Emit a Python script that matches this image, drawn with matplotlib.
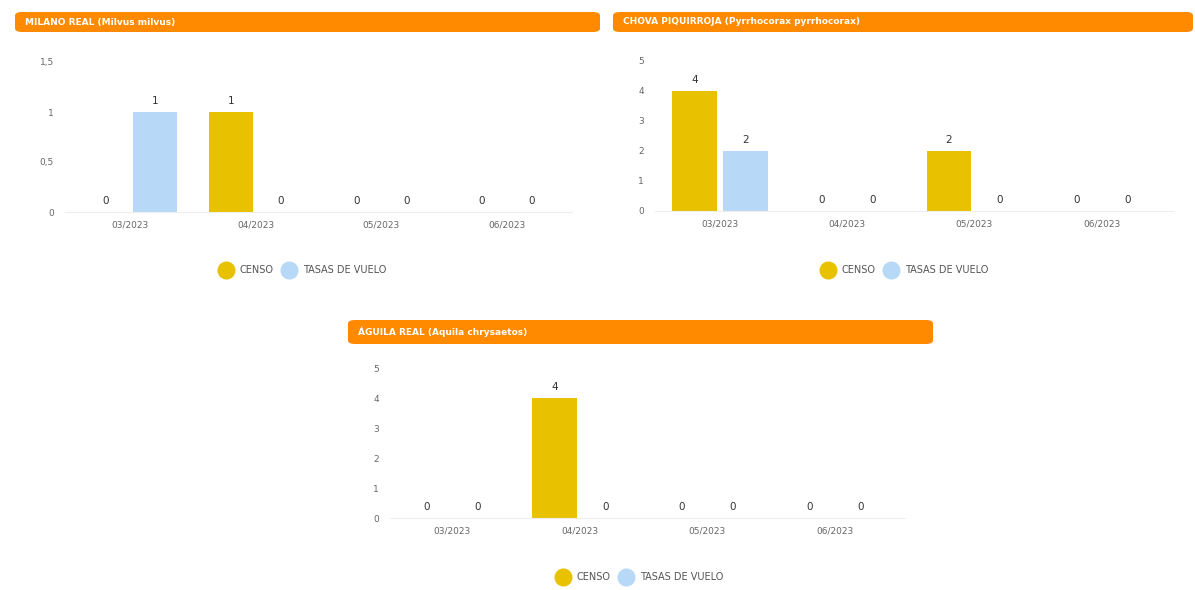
import numpy as np
import matplotlib.pyplot as plt
from matplotlib.patches import FancyBboxPatch
from matplotlib.lines import Line2D

W, H = 1195, 590

months = ['03/2023', '04/2023', '05/2023', '06/2023']
series = ['CENSO', 'TASAS DE VUELO']

milano_censo = [0, 1, 0, 0]
milano_tasas = [1, 0, 0, 0]
chova_censo = [4, 0, 2, 0]
chova_tasas = [2, 0, 0, 0]
aguila_censo = [0, 4, 0, 0]
aguila_tasas = [0, 0, 0, 0]

titles = ['MILANO REAL (Milvus milvus)',
          'CHOVA PIQUIRROJA (Pyrrhocorax pyrrhocorax)',
          'ÁGUILA REAL (Aquila chrysaetos)']

C_CENSO = '#e8c100'
C_TASAS = '#b7d9f7'
ORANGE = '#ff8a00'

plt.rcParams['font.family'] = ['DejaVu Sans']

fig = plt.figure(figsize=(W / 100, H / 100), dpi=100)


def px_axes(x0, x1, y_top, y_bot):
    return fig.add_axes([x0 / W, 1 - y_bot / H, (x1 - x0) / W, (y_bot - y_top) / H])


def header(x0, x1, y0, y1, text):
    box = FancyBboxPatch((x0 / W, 1 - y1 / H), (x1 - x0) / W, (y1 - y0) / H,
                         boxstyle='round,pad=0,rounding_size=0.006',
                         transform=fig.transFigure, facecolor=ORANGE,
                         edgecolor='none', zorder=1)
    fig.patches.append(box)
    fig.text((x0 + 10) / W, 1 - (y0 + y1) / 2 / H, text, color='white',
             fontsize=6.5, fontweight='bold', va='center', ha='left')


def panel(ax, censo, tasas, ymax, yticks, yticklabels, xlim, legend_xy):
    x = np.arange(len(months))
    w = 0.35
    off = 0.2
    b1 = ax.bar(x - off, censo, w, color=C_CENSO, zorder=2)
    b2 = ax.bar(x + off, tasas, w, color=C_TASAS, zorder=2)
    for bars in (b1, b2):
        for r in bars:
            v = r.get_height()
            ax.annotate(f'{v:g}', (r.get_x() + r.get_width() / 2, v),
                        xytext=(0, 4), textcoords='offset points',
                        ha='center', va='bottom', fontsize=7.5, color='#333333')
    ax.set_ylim(0, ymax)
    ax.set_xlim(*xlim)
    ax.set_yticks(yticks)
    ax.set_yticklabels(yticklabels)
    ax.set_xticks(x)
    ax.set_xticklabels(months)
    for s in ['top', 'right', 'left']:
        ax.spines[s].set_visible(False)
    ax.spines['bottom'].set_color('#eeeeee')
    ax.tick_params(length=0, labelsize=6.5, colors='#666666', pad=6)
    ax.tick_params(axis='y', pad=8)
    handles = [Line2D([], [], marker='o', ls='none', markersize=13,
                      markerfacecolor=c, markeredgecolor='none')
               for c in (C_CENSO, C_TASAS)]
    fig.legend(handles, series, loc='center', ncol=2, frameon=False,
               bbox_to_anchor=(legend_xy[0] / W, 1 - legend_xy[1] / H),
               fontsize=7, labelcolor='#555555', handletextpad=0.8,
               columnspacing=0.9, handlelength=1.3)


header(15, 600, 12, 32, titles[0])
header(613, 1193, 12, 32, titles[1])
header(348, 933, 320, 344, titles[2])

ax1 = px_axes(65, 572, 62, 212)
panel(ax1, milano_censo, milano_tasas, 1.5, [0, 0.5, 1, 1.5],
      ['0', '0,5', '1', '1,5'], (-0.52, 3.52), (303, 270))

ax2 = px_axes(655, 1173, 61, 211)
panel(ax2, chova_censo, chova_tasas, 5, [0, 1, 2, 3, 4, 5],
      ['0', '1', '2', '3', '4', '5'], (-0.51, 3.56), (905, 270))

ax3 = px_axes(390, 905, 368, 518)
panel(ax3, aguila_censo, aguila_tasas, 5, [0, 1, 2, 3, 4, 5],
      ['0', '1', '2', '3', '4', '5'], (-0.49, 3.55), (640, 577))

fig.savefig('out.png', dpi=100, facecolor='white')
